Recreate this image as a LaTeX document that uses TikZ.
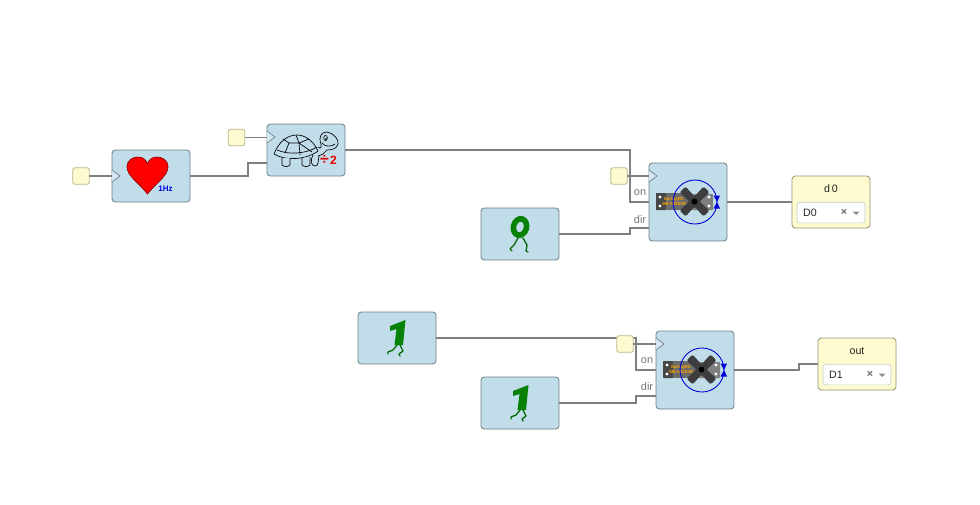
\documentclass[tikz,border=0pt]{standalone}
\usepackage{fontspec}
\setmainfont{Liberation Sans}
\definecolor{blockfill}{HTML}{C0DDE9}
\definecolor{blockline}{HTML}{6E7F88}
\definecolor{yellowfill}{HTML}{FDFBCF}
\definecolor{yellowline}{HTML}{BDB98F}
\definecolor{wirecol}{HTML}{808080}
\definecolor{labelcol}{HTML}{777777}
\definecolor{icongreen}{HTML}{078207}
\tikzset{
  blockbox/.style={draw=blockline,fill=blockfill,line width=0.6pt,rounded corners=2.5pt,minimum width=58.5pt,minimum height=39pt,inner sep=0pt,outer sep=0pt},
  servobox/.style={blockbox,minimum height=58.5pt},
  pinbox/.style={draw=yellowline,fill=yellowfill,line width=0.7pt,rounded corners=1.8pt,minimum width=12.4pt,minimum height=12.4pt,inner sep=0pt,outer sep=0pt},
  outbox/.style={draw=yellowline!80!black,fill=yellowfill,line width=0.6pt,rounded corners=2.5pt,minimum width=58.5pt,minimum height=39pt,inner sep=0pt,outer sep=0pt},
  dropbox/.style={draw=black!20,fill=white,line width=0.5pt,rounded corners=2pt,minimum width=51pt,minimum height=15.5pt,inner sep=0pt,outer sep=0pt},
  wire/.style={draw=wirecol,line width=0.82pt},
  clocktip/.style={draw=blockline,line width=0.5pt,fill=blockfill!70!white},
  portlabel/.style={text=labelcol,font=\fontsize{8.2}{10}\selectfont,inner sep=0pt},
  titletext/.style={text=black!85,font=\fontsize{8}{10}\selectfont,inner sep=0pt},
  droptext/.style={text=black!85,font=\fontsize{8}{10}\selectfont,inner sep=0pt},
  droptimes/.style={text=black!60,font=\bfseries\fontsize{8}{10}\selectfont,inner sep=0pt},
  turtleline/.style={draw=black,line width=0.5pt,line join=round},
  legline/.style={draw=icongreen!80!black,line width=1pt,line join=round,line cap=round}
}
\newcommand\clockmark[2]{\draw[clocktip] (#1,#2-6) -- (#1+8,#2) -- (#1,#2+6);}
\newcommand\servoicon[2]{%
\begin{scope}[shift={(#1,#2)}]
  \fill[black!72,rounded corners=0.5pt] (656,193) rectangle (666,210);
  \fill[black!58] (666,193) rectangle (692,210);
  \fill[black!50,rounded corners=0.5pt] (692,194) rectangle (713,210);
  \fill[white] (660,197) circle (1.7) (660,206) circle (1.7) (709,197) circle (1.7) (709,206) circle (1.7);
  \node[inner sep=0pt,align=center,text=orange!70!yellow,font=\bfseries\fontsize{3.3}{3.8}\selectfont] at (674,201.5) {SpringRC\\SM-S4303R};
  \begin{scope}[shift={(694.5,201.5)}]
    \fill[black!76,rounded corners=1.2pt] (9,-15) -- (15,-9) -- (5,0) -- (15,9) -- (9,15) -- (0,5) -- (-9,15) -- (-15,9) -- (-5,0) -- (-15,-9) -- (-9,-15) -- (0,-5) -- cycle;
    \fill[black] (0,0) circle (3);
  \end{scope}
  \draw[blue!85!black,line width=0.65pt] (695,202) circle (22);
  \fill[blue!85!black] (713.5,195.5) -- (720,195.5) -- (717,202) -- cycle (713.5,208.5) -- (720,208.5) -- (717,202) -- cycle;
\end{scope}}
\newcommand\oneicon[2]{%
\begin{scope}[shift={(#1,#2)}]
  \fill[icongreen] (390,326) -- (405.5,320) -- (403,345) -- (394.5,345) -- (396.5,329) -- (390,331) -- cycle;
  \draw[legline] (397,345) -- (393,350) -- (388,352) -- (388,354);
  \draw[legline] (400,345) -- (403,351) -- (399,354) -- (400,356);
\end{scope}}
\begin{document}
\begin{tikzpicture}[x=0.75pt,y=-0.75pt]
\useasboundingbox[fill=white] (0,0) rectangle (980,504);
% blocks
\node[blockbox] (heart) at (151,176) {};
\node[blockbox] (turtle) at (306,150) {};
\node[servobox] (servoA) at (688,202) {};
\node[blockbox] (zero) at (520,234) {};
\node[outbox] (dzero) at (831,202) {};
\node[blockbox] (oneA) at (397,338) {};
\node[blockbox] (oneB) at (520,403) {};
\node[servobox] (servoB) at (695,370) {};
\node[outbox] (outp) at (857,364) {};
% connectors
\draw[wire] (heart.east) -- (248,176) -- (248,163) -- (turtle.west |- 248,163);
\draw[wire] (turtle.east) -- (630,150) -- (630,202) -- (servoA.west);
\draw[wire] (zero.east) -- (630,234) -- (630,228) -- (servoA.west |- 630,228);
\draw[wire] (servoA.east) -- (dzero.west);
\draw[wire] (oneA.east) -- (636,338) -- (636,370) -- (servoB.west);
\draw[wire] (oneB.east) -- (636,403) -- (636,396) -- (servoB.west |- 636,396);
\draw[wire] (servoB.east) -- (799,370) -- (799,364) -- (outp.west);
% clock pins
\node[pinbox] (pinA) at (81,176) {};
\node[pinbox] (pinB) at (236.5,137.5) {};
\node[pinbox] (pinC) at (619,176) {};
\node[pinbox] (pinD) at (625,344) {};
\draw[wire] (pinA.east) -- (heart.west);
\draw[wire] (pinB.east) -- (turtle.west |- pinB.east);
\draw[wire] (pinC.east) -- (servoA.west |- pinC.east);
\draw[wire] (pinD.east) -- (servoB.west |- pinD.east);
\clockmark{112}{176}
\clockmark{267}{137}
\clockmark{649}{176}
\clockmark{656}{344}
% port labels
\node[portlabel] (onA) at (640,193) {on};
\node[portlabel] (dirA) at (640,219.5) {dir};
\node[portlabel] (onB) at (647,361) {on};
\node[portlabel] (dirB) at (647,387) {dir};
% outputs
\node[titletext] (dzerot) at (831,189) {d\,0};
\node[dropbox] (dzerod) at (831,212.5) {};
\node[droptext] (dzerov) at (810,212.5) {D0};
\node[droptimes] (dzerox) at (844,212.5) {×};
\fill[black!45] (852.5,211.5) -- (859.5,211.5) -- (856,215) -- cycle;
\node[titletext] (outt) at (857,351) {out};
\node[dropbox] (outd) at (857,374.5) {};
\node[droptext] (outv) at (836,374.5) {D1};
\node[droptimes] (outx) at (870,374.5) {×};
\fill[black!45] (878.5,373.5) -- (885.5,373.5) -- (882,377) -- cycle;
% heart icon
\draw[fill=red,draw=red!55!black,line width=0.5pt] (147.5,194) .. controls (140,184) and (127,176) .. (127,167) .. controls (127,160) and (133,157) .. (138,157) .. controls (143,157) and (146.5,160) .. (147.5,164) .. controls (148.5,160) and (152,157) .. (157,157) .. controls (162,157) and (168,160) .. (168,167) .. controls (168,176) and (155,184) .. (147.5,194) -- cycle;
\node[inner sep=0pt,text=blue!85!black,font=\bfseries\fontsize{6}{7}\selectfont] (hz) at (165.5,189) {1Hz};
% turtle icon
\draw[turtleline] (274,154) .. controls (279,141) and (288,135) .. (297,135) .. controls (306,135) and (314,142) .. (318,151);
\draw[turtleline] (274,154) .. controls (285,161) and (306,160) .. (318,151);
\draw[turtleline] (277,150) .. controls (288,155) and (306,154) .. (317,147);
\draw[turtleline] (283,139) -- (289,143) -- (285,153);
\draw[turtleline] (296,135) -- (299,143) -- (300,155);
\draw[turtleline] (289,143) -- (299,143) -- (309,139);
\draw[turtleline] (299,143) -- (312,152);
\draw[turtleline] (318,147) .. controls (322,150) and (321,146) .. (321,144) .. controls (318,136) and (322,132) .. (327,132) .. controls (334,133) and (339,140) .. (338,144) .. controls (337,149) and (331,150) .. (327,150) .. controls (325,153) and (322,155) .. (318,156);
\draw[turtleline,fill=blockfill] (282,158) -- (282,165) .. controls (284,167) and (288,167) .. (290,165) -- (290,158);
\draw[turtleline,fill=blockfill] (302,158) -- (302,165) .. controls (304,167) and (308,167) .. (310,165) -- (310,157);
\draw[turtleline] (313,155) .. controls (310,160) and (311,166) .. (315,166) .. controls (319,166) and (318,160) .. (319,156);
\draw[turtleline] (325.5,138) ellipse (1.8 and 2.6);
\fill (326,139) circle (1);
\draw[turtleline] (322,143) .. controls (325,147) and (331,147) .. (335,144);
\node[inner sep=0pt,text=red!90!black,font=\bfseries\fontsize{12}{13}\selectfont] (divi) at (324.5,160) {÷};
\node[inner sep=0pt,text=red!90!black,font=\bfseries\fontsize{9}{10}\selectfont] (two) at (333.5,160) {2};
% servo icons
\servoicon{0}{0}
\servoicon{7}{168}
% zero icon
\draw[icongreen,line width=4.2pt,rotate around={-15:(520,227)}] (520,227) ellipse (6.5 and 8.3);
\draw[legline] (518,238) -- (514,245) -- (510,249) -- (512,251);
\draw[legline] (523,238) -- (527,245) -- (526,251) -- (528,252);
% one icons
\oneicon{0}{0}
\oneicon{123}{65}
\end{tikzpicture}
\end{document}
